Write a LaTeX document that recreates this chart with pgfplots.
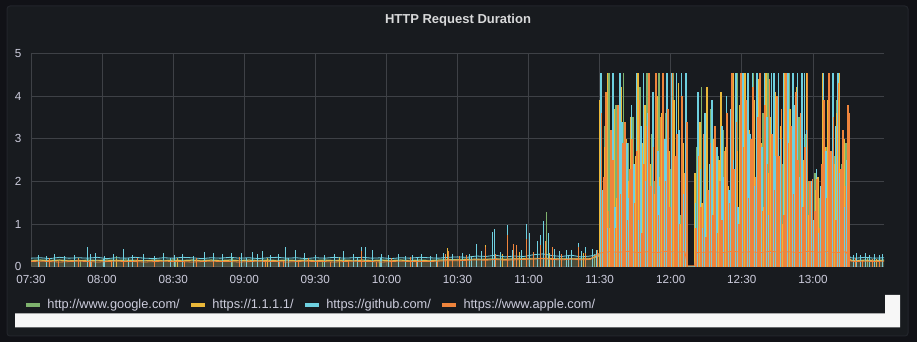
\documentclass[border=0pt]{standalone}
\usepackage{fontspec}
\setmainfont{Liberation Sans}
\usepackage{pgfplots}
\usepackage{pgfplotstable}
\pgfplotsset{compat=1.18}
\definecolor{outerbg}{HTML}{111217}
\definecolor{panelbg}{HTML}{181B1F}
\definecolor{panelborder}{HTML}{22252B}
\definecolor{gridcol}{HTML}{3E4146}
\definecolor{tickcol}{HTML}{CCCCDC}
\definecolor{titlecol}{HTML}{D8D9DA}
\definecolor{cgreen}{HTML}{7EB26D}
\definecolor{cyellow}{HTML}{EAB839}
\definecolor{ccyan}{HTML}{6ED0E0}
\definecolor{corange}{HTML}{EF843C}

\pgfplotstableread{
t g y c o
0 .15 .14 .20 .12
4 .16 .15 .21 .13
8 .15 .14 .19 .12
12 .16 .15 .22 .11
16 .15 .14 .20 .12
20 .14 .15 .21 .13
24 .16 .14 .20 .12
28 .15 .15 .22 .11
32 .16 .14 .19 .12
36 .15 .15 .21 .13
40 .16 .14 .20 .12
44 .15 .15 .22 .12
48 .14 .14 .20 .11
52 .16 .15 .19 .12
56 .15 .14 .21 .13
60 .16 .15 .20 .12
64 .15 .14 .22 .12
68 .16 .15 .21 .11
72 .15 .14 .19 .12
76 .16 .15 .21 .13
80 .15 .14 .20 .12
84 .16 .15 .22 .12
88 .15 .14 .20 .11
92 .16 .15 .21 .12
96 .15 .14 .19 .13
100 .16 .15 .21 .12
104 .15 .14 .22 .12
108 .16 .15 .20 .11
112 .15 .14 .21 .12
116 .16 .15 .19 .13
120 .15 .14 .21 .12
124 .16 .15 .20 .12
128 .15 .14 .22 .11
132 .16 .15 .20 .12
136 .15 .14 .21 .13
140 .16 .15 .22 .12
144 .15 .14 .20 .12
148 .16 .15 .21 .11
152 .15 .14 .19 .12
156 .16 .15 .21 .13
160 .15 .14 .20 .12
164 .16 .15 .22 .12
168 .15 .14 .21 .12
172 .16 .15 .20 .13
176 .17 .16 .22 .14
180 .17 .16 .23 .14
184 .18 .17 .22 .15
188 .17 .18 .25 .16
192 .18 .17 .24 .15
196 .19 .18 .27 .17
200 .18 .17 .23 .15
204 .19 .18 .25 .16
208 .18 .19 .24 .17
212 .20 .18 .28 .18
216 .19 .20 .30 .19
220 .18 .19 .26 .17
224 .19 .18 .24 .16
228 .18 .19 .27 .18
232 .19 .18 .23 .16
236 .18 .19 .25 .17
240 .25 .28 .30 .32
244 .28 .30 .33 .35
248 .26 .29 .31 .34
252 .29 .27 .32 .36
256 .27 .30 .33 .33
260 .26 .28 .35 .35
264 .29 .31 .32 .33
268 .27 .29 .34 .36
272 .26 .30 .33 .34
276 .27 .28 .31 .35
277 0 0 0 .02
280 0 0 0 .02
281 .26 .28 .31 .33
284 .27 .30 .33 .34
288 .26 .28 .31 .35
292 .29 .27 .34 .33
296 .27 .30 .33 .36
300 .26 .28 .35 .34
304 .29 .31 .32 .35
308 .27 .29 .34 .33
312 .26 .30 .33 .36
316 .29 .27 .32 .34
320 .27 .30 .35 .35
324 .26 .28 .33 .33
328 .29 .31 .34 .36
332 .27 .29 .32 .34
336 .26 .30 .33 .35
340 .29 .27 .34 .33
344 .27 .30 .33 .35
346 .16 .15 .21 .13
348 .15 .14 .20 .12
352 .16 .15 .22 .13
356 .15 .14 .20 .12
360 .16 .15 .21 .13
}\base

\begin{document}
\begin{tikzpicture}[x=1pt,y=1pt]
\useasboundingbox (0,0) rectangle (917,342);
\fill[outerbg] (0,0) rectangle (917,342);
\filldraw[fill=panelbg, draw=panelborder, line width=1pt, rounded corners=3pt] (7,6) rectangle (908,336);
\node[anchor=base, text=titlecol, font=\bfseries\fontsize{13}{15}\selectfont] at (458,318) {HTTP Request Duration};
\begin{axis}[
  at={(31pt,75.3pt)}, anchor=south west,
  scale only axis, width=853pt, height=213.4pt,
  xmin=0, xmax=360, ymin=0, ymax=5,
  xtick={0,30,...,330},
  xticklabels={07:30,08:00,08:30,09:00,09:30,10:00,10:30,11:00,11:30,12:00,12:30,13:00},
  ytick={0,1,2,3,4,5},
  grid=major, major grid style={draw=gridcol, line width=0.7pt},
  axis line style={draw=none}, major tick length=0pt,
  tick label style={text=tickcol, font=\fontsize{11.7}{14}\selectfont},
  /pgf/number format/assume math mode=true,
  xticklabel style={yshift=-5.5pt},
  yticklabel style={xshift=-6pt},
  legend columns=4,
  legend cell align=left,
  legend style={at={(-0.0062,-0.1795)}, anchor=west, draw=none, fill=none,
    text=tickcol, font=\fontsize{12.8}{15}\selectfont, inner sep=0pt, outer sep=0pt,
    nodes={inner sep=0pt},
    /tikz/every odd column/.append style={column sep=8pt},
    /tikz/every even column/.append style={column sep=11pt}},
  legend image code/.code={\fill (0pt,-1.6pt) rectangle (13.3pt,1.6pt);},
]
\addlegendimage{cgreen}\addlegendentry{http://www.google.com/}
\addlegendimage{cyellow}\addlegendentry{https://1.1.1.1/}
\addlegendimage{ccyan}\addlegendentry{https://github.com/}
\addlegendimage{corange}\addlegendentry{https://www.apple.com/}

% ---------- google ----------
\addplot[forget plot, draw=none, fill=cgreen, fill opacity=0.1] table[x=t,y=g]{\base} \closedcycle;
\addplot[forget plot, cgreen, line width=0.8pt] table[x=t,y=g]{\base};
\addplot[forget plot, ycomb, cgreen, line width=1pt, mark=none] coordinates {
(21,0.15)(36,0.26)(61,0.16)(85,0.22)(123,0.15)(147,0.16)(190,0.27)(207,0.3)(217.4,1.27)(228,0.25)(238,0.3)(353,0.2)};
\addplot[forget plot, ycomb, cgreen, line width=1.6pt, mark=none] coordinates {
(240,2.5)(241,0.9)(242,3.3)(243,1.6)(244,4.53)(245,2.0)(246,1.2)(247,3.8)(248,2.4)(249,0.7)(250,4.53)(251,1.8)(252,2.9)(253,1.1)(254,3.5)(255,2.2)(256,0.8)(257,4.2)(258,1.5)(259,2.7)(260,4.53)(261,1.0)(262,3.1)(263,2.0)(264,1.3)(265,4.53)(266,2.6)(267,1.4)(268,3.6)(269,0.9)(270,2.3)(271,4.53)(272,1.7)(273,3.0)(274,1.2)(275,2.5)(276,1.9)
(280,1.2)(281,2.8)(282,0.7)(283,4.2)(284,1.5)(285,2.3)(286,1.0)(287,3.7)(288,1.9)(289,0.8)(290,2.6)(291,1.4)(292,3.2)(293,1.1)(294,2.4)(295,1.7)(296,3.4)(297,2.0)(298,4.53)(299,1.3)(300,2.9)(301,1.6)(302,3.8)(303,0.9)(304,2.5)(305,4.53)(306,1.8)(307,3.0)(308,1.2)(309,3.6)(310,2.1)(311,4.53)(312,1.5)(313,2.7)(314,0.8)(315,3.9)(316,1.9)(317,2.4)(318,1.1)(319,3.3)(320,4.53)(321,1.6)(322,2.6)(323,1.0)(324,3.5)(325,2.2)(326,1.4)(327,3.1)(328,2.0)(329,1.7)(330,1.1)(331,2.2)(332,0.9)(333,1.6)(334,3.4)(335,1.2)(336,2.8)(337,4.53)(338,1.5)(339,2.6)(340,3.9)(341,1.3)(342,2.4)(343,1.8)(344,2.9)(345,0.7)};

% ---------- 1.1.1.1 ----------
\addplot[forget plot, draw=none, fill=cyellow, fill opacity=0.1] table[x=t,y=y]{\base} \closedcycle;
\addplot[forget plot, cyellow, line width=0.8pt] table[x=t,y=y]{\base};
\addplot[forget plot, ycomb, cyellow, line width=1pt, mark=none] coordinates {
(20,0.2)(36,0.19)(62,0.21)(100,0.2)(130,0.22)(155,0.2)(175.6,0.43)(186,0.25)(192,0.50)(199,0.30)(206,0.34)(212,0.28)(219,0.32)(226,0.27)(233,0.31)(239,0.35)(350,0.2)(357,0.19)};
\addplot[forget plot, ycomb, cyellow, line width=1.6pt, mark=none] coordinates {
(240.25,3.9)(241.25,1.4)(242.25,2.8)(243.25,4.53)(244.25,0.9)(245.25,2.2)(246.25,3.7)(247.25,1.6)(248.25,2.5)(249.25,4.2)(250.25,1.1)(251.25,3.0)(252.25,2.0)(253.25,3.5)(254.25,0.8)(255.25,2.6)(256.25,4.53)(257.25,1.3)(258.25,2.9)(259.25,3.8)(260.25,1.0)(261.25,2.4)(262.25,3.3)(263.25,1.7)(264.25,4.0)(265.25,2.1)(266.25,3.6)(267.25,1.2)(268.25,4.53)(269.25,2.7)(270.25,1.5)(271.25,3.9)(272.25,2.3)(273.25,4.3)(274.25,1.0)(275.25,2.9)(276.25,3.5)
(280.25,2.2)(281.25,0.8)(282.25,3.4)(283.25,1.5)(284.25,2.6)(285.25,4.2)(286.25,1.0)(287.25,2.1)(288.25,3.0)(289.25,1.7)(290.25,2.5)(291.25,4.1)(292.25,1.2)(293.25,2.8)(294.25,1.9)(295.25,3.6)(296.25,4.53)(297.25,1.3)(298.25,2.7)(299.25,3.8)(300.25,1.6)(301.25,4.53)(302.25,2.4)(303.25,3.2)(304.25,1.1)(305.25,3.9)(306.25,2.0)(307.25,4.4)(308.25,2.9)(309.25,1.4)(310.25,4.53)(311.25,2.2)(312.25,3.5)(313.25,1.8)(314.25,4.1)(315.25,2.6)(316.25,3.3)(317.25,1.0)(318.25,4.53)(319.25,2.3)(320.25,3.7)(321.25,1.5)(322.25,2.8)(323.25,4.2)(324.25,1.9)(325.25,3.4)(326.25,2.5)(327.25,4.53)(328.25,1.2)(329.25,2.0)(330.25,0.9)(331.25,1.8)(332.25,2.1)(333.25,1.4)(334.25,4.53)(335.25,2.8)(336.25,3.9)(337.25,1.3)(338.25,4.53)(339.25,2.4)(340.25,3.6)(341.25,4.53)(342.25,1.7)(343.25,3.0)(344.25,2.2)(345.25,1.0)};

% ---------- github ----------
\addplot[forget plot, draw=none, fill=ccyan, fill opacity=0.1] table[x=t,y=c]{\base} \closedcycle;
\addplot[forget plot, ccyan, line width=0.8pt] table[x=t,y=c]{\base};
\addplot[forget plot, ycomb, ccyan, line width=1pt, mark=none] coordinates {
(3,0.27)(6.5,0.25)(10.1,0.30)(14,0.26)(18.5,0.28)(24,0.47)(25.3,0.30)(27.4,0.31)(31,0.26)(35,0.29)(39.2,0.41)(43,0.27)(47.5,0.30)(52,0.26)(56,0.31)(60.5,0.27)(64,0.29)(68.5,0.26)(73.4,0.35)(77.2,0.33)(81,0.30)(84.8,0.32)(89,0.33)(93.3,0.35)(95.8,0.30)(97.5,0.36)(101,0.28)(104.5,0.30)(107.6,0.47)(111.8,0.38)(115.6,0.33)(119.9,0.28)(124,0.27)(128,0.30)(132,0.37)(136,0.29)(139.3,0.46)(141,0.47)(144,0.40)(148,0.30)(150.7,0.27)(155,0.29)(158,0.26)(161,0.28)(165,0.30)(168.4,0.25)(171,0.30)(174,0.31)(178,0.29)(182,0.33)(185,0.30)(188.2,0.53)(190,0.36)(194.6,0.82)(195.8,0.88)(198,0.35)(200.9,0.98)(203,0.40)(207,0.38)(209.3,0.99)(210.5,0.80)(213.6,0.60)(215.2,0.74)(216.5,1.07)(218.2,0.78)(221,0.42)(223,0.36)(225.8,0.40)(228,0.38)(230.9,0.56)(232.5,0.37)(234.2,0.45)(236.8,0.42)(238.5,0.38)
(347,0.27)(348.5,0.32)(350,0.28)(352,0.33)(354,0.27)(356,0.30)(358,0.28)(359.5,0.29)
(30.4,0.19)(41.2,0.2)(59,0.2)(91,0.2)(108.5,0.2)(138,0.2)(147.7,0.2)(152,0.19)(163,0.2)(186,0.22)(205,0.24)(227,0.24)(237,0.25)};
\addplot[forget plot, ycomb, ccyan, line width=1.6pt, mark=none] coordinates {
(240.5,4.53)(241.5,1.8)(242.5,2.6)(243.5,0.9)(244.5,3.1)(245.5,4.53)(246.5,1.4)(247.5,2.2)(248.5,4.53)(249.5,3.4)(250.5,0.8)(251.5,2.9)(252.5,1.6)(253.5,3.8)(254.5,2.4)(255.5,4.53)(256.5,1.1)(257.5,3.3)(258.5,4.53)(259.5,2.0)(260.5,3.6)(261.5,0.7)(262.5,4.1)(263.5,4.53)(264.5,2.7)(265.5,1.9)(266.5,4.53)(267.5,3.0)(268.5,4.53)(269.5,1.3)(270.5,4.53)(271.5,2.5)(272.5,4.53)(273.5,3.2)(274.5,4.53)(275.5,1.7)(276.5,4.53)
(280.5,1.5)(281.5,4.1)(282.5,2.3)(283.5,0.9)(284.5,3.6)(285.5,1.2)(286.5,2.4)(287.5,3.9)(288.5,1.6)(289.5,2.8)(290.5,1.0)(291.5,3.3)(292.5,2.1)(293.5,4.0)(294.5,1.8)(295.5,3.7)(296.5,2.5)(297.5,4.53)(298.5,1.4)(299.5,3.9)(300.5,4.53)(301.5,2.2)(302.5,4.53)(303.5,3.1)(304.5,4.53)(305.5,1.9)(306.5,4.53)(307.5,4.53)(308.5,2.8)(309.5,4.53)(310.5,3.5)(311.5,1.2)(312.5,4.53)(313.5,4.53)(314.5,2.6)(315.5,4.53)(316.5,3.0)(317.5,4.53)(318.5,1.7)(319.5,4.53)(320.5,2.9)(321.5,4.53)(322.5,3.8)(323.5,4.53)(324.5,2.1)(325.5,4.53)(326.5,4.53)(327.5,3.2)(328.5,1.5)(329.5,2.0)(330.5,1.1)(331.5,2.3)(332.5,0.8)(333.5,1.9)(334.5,4.53)(335.5,2.7)(336.5,4.53)(337.5,1.6)(338.5,4.53)(339.5,3.3)(340.5,4.53)(341.5,2.2)(342.5,3.0)(343.5,1.4)(344.5,2.5)(345.5,0.6)};

% ---------- apple ----------
\addplot[forget plot, draw=none, fill=corange, fill opacity=0.1] table[x=t,y=o]{\base} \closedcycle;
\addplot[forget plot, corange, line width=0.8pt] table[x=t,y=o]{\base};
\addplot[forget plot, ycomb, corange, line width=1pt, mark=none] coordinates {
(3.4,0.12)(11.4,0.13)(24.5,0.12)(25.5,0.12)(34,0.12)(39,0.13)(52,0.12)(64.6,0.12)(77,0.12)(99,0.12)(105,0.12)(106.6,0.13)(112.7,0.12)(121,0.12)(126.6,0.12)(134,0.12)(146,0.12)(162.5,0.12)(171.4,0.13)(177.7,0.14)
(8,0.2)(20,0.19)(45,0.21)(70,0.2)(88,0.22)(117,0.2)(139.3,0.37)(152,0.2)(160,0.22)(175,0.30)(176,0.37)(181,0.25)(184,0.28)(192,0.47)(196,0.30)(200.9,0.74)(203.8,0.53)(205,0.50)(209,0.66)(212,0.35)(215,0.50)(217,0.60)(220.3,0.45)(224,0.30)(230.9,0.45)(234,0.32)(238.9,0.40)
(348,0.2)(351,0.13)(355,0.18)(358,0.14)};
\addplot[forget plot, ycomb, corange, line width=1.6pt, mark=none] coordinates {
(240.75,3.6)(241.75,2.1)(242.75,4.1)(243.75,1.3)(244.75,3.2)(245.75,2.5)(246.75,0.9)(247.75,3.8)(248.75,1.7)(249.75,2.9)(250.75,3.4)(251.75,1.1)(252.75,2.3)(253.75,3.0)(254.75,1.5)(255.75,2.7)(256.75,3.9)(257.75,0.8)(258.75,2.4)(259.75,3.3)(260.75,4.53)(261.75,1.9)(262.75,2.8)(263.75,4.53)(264.75,1.2)(265.75,3.5)(266.75,4.53)(267.75,2.0)(268.75,3.7)(269.75,1.4)(270.75,4.53)(271.75,2.6)(272.75,3.1)(273.75,1.0)(274.75,4.0)(275.75,2.2)(276.75,3.4)
(280.75,0.9)(281.75,2.6)(282.75,1.4)(283.75,3.1)(284.75,0.7)(285.75,1.8)(286.75,2.9)(287.75,1.2)(288.75,3.3)(289.75,0.8)(290.75,2.0)(291.75,1.1)(292.75,2.7)(293.75,3.6)(294.75,1.5)(295.75,4.53)(296.75,2.3)(297.75,3.4)(298.75,1.0)(299.75,4.53)(300.75,2.8)(301.75,3.9)(302.75,1.6)(303.75,3.0)(304.75,4.2)(305.75,2.1)(306.75,3.5)(307.75,4.53)(308.75,1.3)(309.75,3.8)(310.75,2.4)(311.75,4.4)(312.75,3.1)(313.75,1.8)(314.75,4.0)(315.75,2.6)(316.75,3.7)(317.75,1.2)(318.75,4.53)(319.75,2.9)(320.75,3.3)(321.75,1.7)(322.75,4.1)(323.75,2.5)(324.75,3.6)(325.75,1.4)(326.75,2.8)(327.75,4.53)(328.75,2.0)(329.75,2.05)(330.75,1.3)(331.75,2.05)(332.75,0.9)(333.75,2.4)(334.75,3.9)(335.75,1.6)(336.75,4.53)(337.75,2.7)(338.75,3.5)(339.75,1.1)(340.75,4.3)(341.75,2.3)(342.75,3.2)(343.75,1.9)(344.75,3.8)(345.25,3.6)};
\end{axis}
% white band of the screenshot
\fill[white!97!black] (15,28.7) -- (885,28.7) -- (885,47) -- (900,47) -- (900,14.7) -- (15,14.7) -- cycle;
\end{tikzpicture}
\end{document}
